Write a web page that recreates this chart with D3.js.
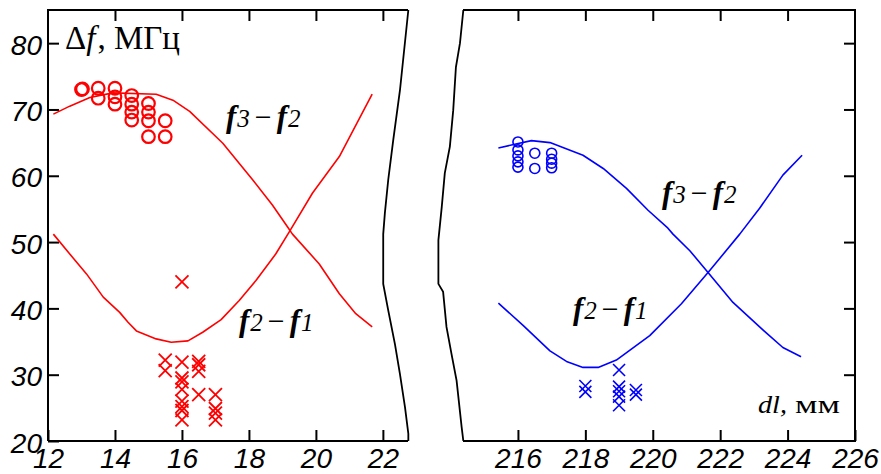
<!DOCTYPE html>
<html><head><meta charset="utf-8">
<script src="https://cdn.jsdelivr.net/npm/d3@7"></script>
<style>
html,body{margin:0;padding:0;background:#fff;}
svg{display:block;}
.serif{font-family:"Liberation Serif","Times New Roman",Times,serif;}
.sans{font-family:"Liberation Sans",Arial,Helvetica,sans-serif;}
</style></head><body>
<svg id="chart" width="881" height="474"></svg>
<script>
// ---------- tick values ----------
const yTicks = [20, 30, 40, 50, 60, 70, 80];
const leftXTicks = [12, 14, 16, 18, 20, 22];
const rightXTicks = [216, 218, 220, 222, 224, 226];

// ---------- left panel (red), dl in mm, Δf in MHz ----------
const redF3F2Dl = [12.16, 12.65, 13.25, 13.94, 15.23, 15.73, 16.23, 17.22, 18.11, 18.70, 19.15, 19.30, 20.10, 20.70, 21.19, 21.68];
const redF3F2Df = [69.3, 70.5, 71.8, 72.5, 72.3, 71.4, 69.7, 64.9, 59.4, 55.6, 52.3, 51.2, 46.7, 42.2, 39.2, 37.2];

const redF2F1Dl = [12.16, 12.65, 13.15, 13.65, 14.14, 14.39, 14.64, 15.23, 15.68, 16.18, 16.62, 17.17, 17.71, 18.21, 18.80, 19.20, 19.90, 20.70, 21.68];
const redF2F1Df = [51.2, 48.2, 45.2, 41.7, 39.4, 37.9, 36.6, 35.4, 34.9, 35.1, 36.4, 38.3, 41.2, 44.2, 48.2, 51.5, 57.4, 62.9, 72.3];

const redCircleDl = [13.0, 13.03, 13.5, 13.5, 14.0, 14.0, 14.0, 14.5, 14.5, 14.5, 14.5, 15.0, 15.0, 15.0, 15.0, 15.5, 15.5];
const redCircleDf = [73.0, 73.1, 73.2, 71.7, 73.2, 71.9, 70.8, 72.1, 70.8, 69.6, 68.4, 70.9, 69.6, 68.3, 65.9, 68.3, 65.9];

const redCrossDl = [16.0, 15.5, 15.5, 16.0, 16.0, 16.0, 16.0, 16.0, 16.0, 16.0, 16.0, 16.5, 16.5, 16.5, 16.5, 17.0, 17.0, 17.0, 17.0];
const redCrossDf = [44.0, 32.2, 30.6, 31.9, 29.5, 28.9, 27.8, 26.0, 25.2, 24.6, 23.2, 32.0, 31.5, 30.5, 27.0, 27.0, 24.9, 24.2, 23.2];

// ---------- right panel (blue) ----------
const blueF3F2Dl = [215.42, 216.40, 216.95, 217.93, 218.53, 219.22, 219.86, 220.45, 220.60, 221.10, 221.64, 222.38, 223.17, 223.86, 224.40];
const blueF3F2Df = [64.2, 65.3, 65.0, 63.1, 61.1, 58.1, 54.8, 52.1, 51.2, 48.7, 45.4, 40.9, 37.2, 34.1, 32.7];

const blueF2F1Dl = [215.42, 216.16, 216.95, 217.44, 217.93, 218.38, 218.92, 219.91, 220.85, 221.69, 222.58, 223.17, 223.86, 224.43];
const blueF2F1Df = [40.8, 37.4, 33.6, 32.0, 31.1, 31.1, 32.2, 35.9, 40.7, 45.7, 51.2, 55.1, 60.1, 63.1];

const blueCircleDl = [216.0, 216.0, 216.0, 216.0, 216.0, 216.5, 216.5, 217.0, 217.0, 217.0, 217.0];
const blueCircleDf = [65.1, 63.9, 63.0, 62.1, 61.3, 63.4, 61.1, 63.4, 62.5, 61.9, 61.2];

const blueCrossDl = [218.0, 218.0, 219.0, 219.0, 219.0, 219.0, 219.0, 219.5, 219.5];
const blueCrossDf = [28.3, 27.4, 30.7, 28.2, 27.5, 26.7, 25.4, 27.7, 27.0];

// ---------- axis-break edges (in each panel's data units) ----------
const leftBreakDl = [22.76, 22.51, 22.31, 22.16, 22.06, 22.01, 22.01, 22.16, 22.36, 22.51, 22.66, 22.76, 22.76];
const leftBreakDf = [85, 72.9, 65.4, 59.4, 54.4, 51.2, 43.7, 39.7, 34.6, 30.1, 25.1, 21.1, 20];
const rightBreakDl = [214.38, 214.28, 214.16, 214.08, 213.98, 213.83, 213.74, 213.64, 213.64, 213.78, 213.88, 214.03, 214.18, 214.33, 214.38];
const rightBreakDf = [85, 80, 76.4, 69.9, 64.4, 60.4, 55.3, 50.3, 43.7, 42.5, 37.2, 33.1, 29.1, 22.1, 20];

const zip = (xs, ys) => xs.map((x, i) => [x, ys[i]]);

// ---------- scales ----------
const y = d3.scaleLinear().domain([20, 85]).range([441, 10]);
const xL = d3.scaleLinear().domain([12, 22.75]).range([48, 408]);
const xR = d3.scaleLinear().domain([214.37, 226]).range([463, 855]);

const svg = d3.select("#chart");

function styleAxis(g) {
  g.select(".domain").remove();
  g.selectAll(".tick line").attr("stroke", "#000").attr("stroke-width", 2);
  g.attr("font-family", null).attr("font-size", null);
  g.selectAll(".tick text")
    .attr("class", "sans")
    .attr("fill", "#000")
    .attr("font-style", "italic")
    .attr("font-size", 28);
}

// left panel axes
svg.append("g").attr("transform", "translate(48,0)")
  .call(d3.axisLeft(y).tickValues(yTicks).tickSize(-11).tickPadding(6))
  .call(styleAxis)
  .selectAll(".tick text").attr("dy", "0.4em");
svg.append("g").attr("transform", "translate(0,441)")
  .call(d3.axisBottom(xL).tickValues(leftXTicks).tickSize(-11).tickPadding(7))
  .call(styleAxis);
svg.append("g").attr("transform", "translate(0,10)")
  .call(d3.axisTop(xL).tickValues(leftXTicks.slice(1)).tickSize(-11).tickFormat(""))
  .call(styleAxis);

// right panel axes
svg.append("g").attr("transform", "translate(0,441)")
  .call(d3.axisBottom(xR).tickValues(rightXTicks).tickSize(-11).tickPadding(7))
  .call(styleAxis);
svg.append("g").attr("transform", "translate(0,10)")
  .call(d3.axisTop(xR).tickValues(rightXTicks.slice(0, -1)).tickSize(-11).tickFormat(""))
  .call(styleAxis);
svg.append("g").attr("transform", "translate(855,0)")
  .call(d3.axisRight(y).tickValues(yTicks.slice(1)).tickSize(-11).tickFormat(""))
  .call(styleAxis);

// frames
const frame = svg.append("g").attr("fill", "none").attr("stroke", "#000").attr("stroke-width", 2);
frame.append("path").attr("d", `M${xL(12)},${y(20)}V${y(85)}H${xL(22.75)}M${xL(12)},${y(20)}H${xL(22.75)}`);
frame.append("path").attr("d", `M${xR(214.37)},${y(85)}H${xR(226)}V${y(20)}H${xR(214.37)}`);

const breakLine = (xs) => d3.line().x(d => xs(d[0])).y(d => y(d[1]));
frame.append("path").attr("stroke-width", 1.8).attr("d", breakLine(xL)(zip(leftBreakDl, leftBreakDf)));
frame.append("path").attr("stroke-width", 1.8).attr("d", breakLine(xR)(zip(rightBreakDl, rightBreakDf)));

// curves
function curve(xs, pts, color) {
  svg.append("path")
    .attr("fill", "none").attr("stroke", color).attr("stroke-width", 1.6)
    .attr("stroke-linejoin", "round")
    .attr("d", d3.line().x(d => xs(d[0])).y(d => y(d[1]))(pts));
}
curve(xL, zip(redF3F2Dl, redF3F2Df), "#ff0000");
curve(xL, zip(redF2F1Dl, redF2F1Df), "#ff0000");
curve(xR, zip(blueF3F2Dl, blueF3F2Df), "#0000ff");
curve(xR, zip(blueF2F1Dl, blueF2F1Df), "#0000ff");

// markers
function circles(xs, pts, color, r, w) {
  svg.append("g").selectAll("circle").data(pts).join("circle")
    .attr("cx", d => xs(d[0])).attr("cy", d => y(d[1])).attr("r", r)
    .attr("fill", "none").attr("stroke", color).attr("stroke-width", w);
}
function crosses(xs, pts, color, s, w) {
  svg.append("g").selectAll("path").data(pts).join("path")
    .attr("d", d => {
      const cx = xs(d[0]), cy = y(d[1]);
      return `M${cx - s},${cy - s}L${cx + s},${cy + s}M${cx - s},${cy + s}L${cx + s},${cy - s}`;
    })
    .attr("fill", "none").attr("stroke", color).attr("stroke-width", w);
}
circles(xL, zip(redCircleDl, redCircleDf), "#ff0000", 6.3, 2.2);
crosses(xL, zip(redCrossDl, redCrossDf), "#ff0000", 6.5, 1.8);
circles(xR, zip(blueCircleDl, blueCircleDf), "#0000ff", 5, 1.6);
crosses(xR, zip(blueCrossDl, blueCrossDf), "#0000ff", 6, 1.6);

// difference labels  f_a − f_b
function diffLabel(x, yb, a, b) {
  const t = svg.append("text").attr("class", "serif").attr("x", x).attr("y", yb).attr("fill", "#000");
  const fPart = s => t.append("tspan").attr("class", "serif")
    .attr("font-weight", "bold").attr("font-style", "italic").attr("font-size", 31).text(s);
  const digit = s => t.append("tspan").attr("class", "serif")
    .attr("font-style", "italic").attr("font-size", 25).attr("dx", 1).text(s);
  fPart("f");
  digit(a);
  t.append("tspan").attr("class", "serif").attr("font-size", 30).attr("dx", 5).text("\u2212");
  fPart("f").attr("dx", 5);
  digit(b);
}
diffLabel(226, 127, "3", "2");
diffLabel(239, 331, "2", "1");
diffLabel(662, 203, "3", "2");
diffLabel(573, 319, "2", "1");

// y-axis title
const title = svg.append("text").attr("class", "serif").attr("x", 65).attr("y", 49)
  .attr("font-size", 33).attr("fill", "#000");
title.append("tspan").text("\u0394");
title.append("tspan").attr("font-style", "italic").text("f");
title.append("tspan").attr("dx", 2).text(", \u041C\u0413\u0446");

// x-axis title
svg.append("text").attr("class", "serif").attr("x", 758).attr("y", 413)
  .attr("font-size", 26).attr("font-style", "italic")
  .attr("textLength", 29).attr("lengthAdjust", "spacingAndGlyphs").text("dl,");
svg.append("text").attr("class", "serif").attr("x", 795).attr("y", 413)
  .attr("font-size", 26)
  .attr("textLength", 45).attr("lengthAdjust", "spacingAndGlyphs").text("\u043C\u043C");
</script>
</body></html>
